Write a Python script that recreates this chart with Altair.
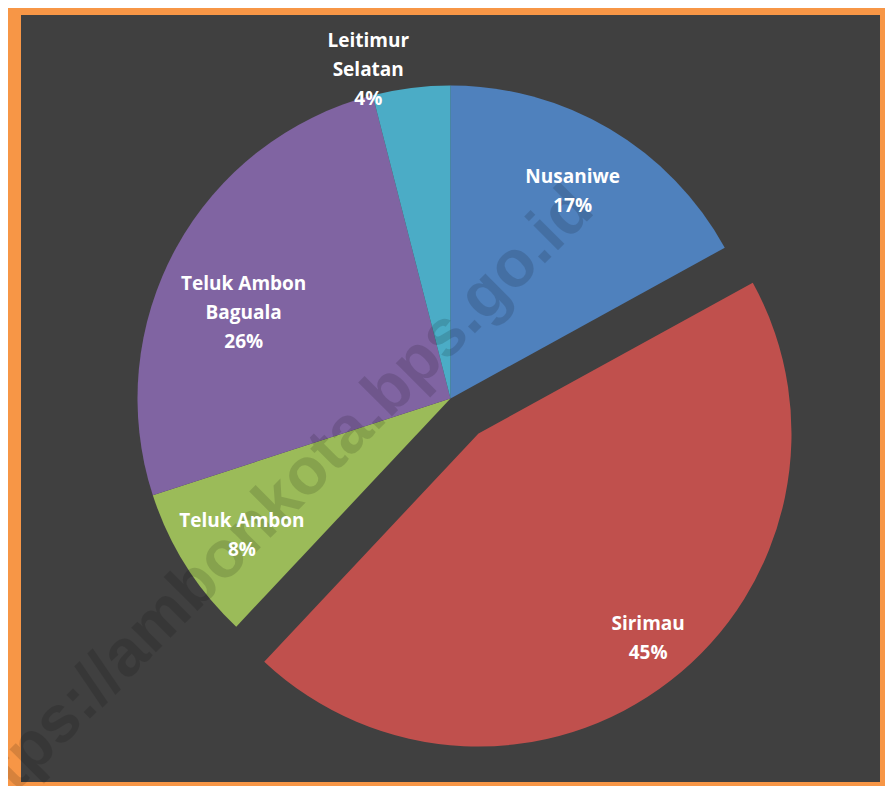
import math
import altair as alt
import pandas as pd

# ---- data ----
categories = ["Nusaniwe", "Sirimau", "Teluk Ambon", "Teluk Ambon Baguala", "Leitimur Selatan"]
shares = [17, 45, 8, 26, 4]
label_names = ["Nusaniwe", "Sirimau", "Teluk Ambon", "Teluk Ambon|Baguala", "Leitimur|Selatan"]
colors = ["#4F81BD", "#C0504D", "#9BBB59", "#8064A2", "#4BACC6"]
watermark = ["https://ambonkota.bps.go.id"]

df = pd.DataFrame({
    "name": categories,
    "share": shares,
    "lbl": label_names,
    "order": list(range(len(categories))),
})

PAD = {"left": 13, "top": 7, "right": 5, "bottom": 4}
W, H = 859, 767
R = 313
EXPLODE = (28, 35)

theta_scale = alt.Scale(domain=[0, 100])
color_enc = alt.Color("name:N", scale=alt.Scale(domain=categories, range=colors), legend=None)

base = alt.Chart(df).transform_window(
    end="sum(share)", frame=[None, 0], sort=[alt.SortField("order")]
).transform_calculate(
    start="datum.end - datum.share",
    mid="datum.end - datum.share / 2",
    label="datum.lbl + '|' + datum.share + '%'",
)

arcs = base.transform_filter("datum.name != 'Sirimau'").mark_arc(radius=R).encode(
    theta=alt.Theta("start:Q", scale=theta_scale),
    theta2="end:Q",
    color=color_enc,
)
arc_exploded = base.transform_filter("datum.name == 'Sirimau'").mark_arc(
    radius=R, xOffset=EXPLODE[0], yOffset=EXPLODE[1]
).encode(
    theta=alt.Theta("start:Q", scale=theta_scale),
    theta2="end:Q",
    color=color_enc,
)

wm = alt.Chart(alt.Data(values=[{"t": watermark[0]}])).mark_text(
    angle=315, align="right", baseline="middle", font="Liberation Sans",
    fontWeight="bold", fontSize=66, color="black", opacity=0.13,
).encode(x=alt.value(561), y=alt.value(183), text="t:N")


def label_layer(name, radius, theta_off_deg=0.0, dx=0, dy=0, shift=0):
    return base.transform_filter(f"datum.name == '{name}'").mark_text(
        radius=radius, thetaOffset=math.radians(theta_off_deg),
        xOffset=dx, yOffset=dy, dy=shift,
        font="Open Sans", fontWeight="bold", fontSize=19, color="white",
        lineBreak="|", lineHeight=29, align="center", baseline="middle",
    ).encode(
        theta=alt.Theta("mid:Q", scale=theta_scale),
        text="label:N",
    )


labels = [
    label_layer("Nusaniwe", 240, shift=-15),
    label_layer("Sirimau", 265, -2, EXPLODE[0], EXPLODE[1], shift=-13),
    label_layer("Teluk Ambon", 247, shift=-10),
    label_layer("Teluk Ambon Baguala", 224, -6.2, shift=-28),
    label_layer("Leitimur Selatan", 340, -6.8, shift=-28),
]

chart = alt.layer(arcs, arc_exploded, wm, *labels).properties(
    width=W, height=H,
    autosize=alt.AutoSizeParams(type="none"),
    padding=PAD,
    background="#F79646",
).configure_view(fill="#404040", strokeWidth=0)

chart.save("out.html", embed_options={"renderer": "svg", "actions": False})
